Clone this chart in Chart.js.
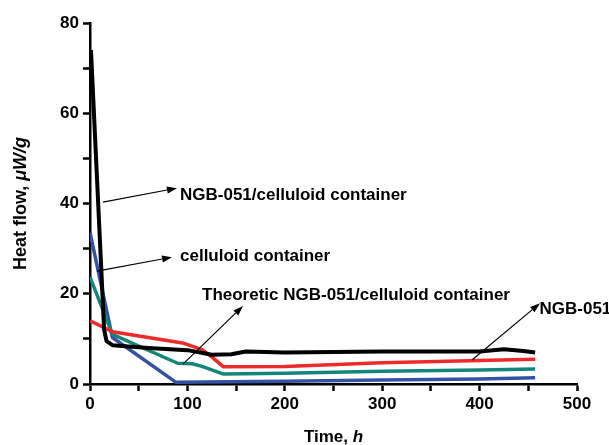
<!DOCTYPE html>
<html>
<head>
<meta charset="utf-8">
<script src="https://cdn.jsdelivr.net/npm/chart.js@4"></script>
<style>
  html, body { margin: 0; padding: 0; background: #fff; }
  #wrap { width: 609px; height: 445px; }
</style>
</head>
<body>
<div id="wrap"><canvas id="graphique"></canvas></div>
<script>
// valeurs (temps en h, flux en uW/g)
const blackX = [1, 14.5, 17, 23, 60, 100, 125, 145, 160, 200, 300, 400, 425, 445, 457];
const blackY = [74, 12, 9.5, 8.6, 8, 7.5, 6.5, 6.6, 7.2, 7.0, 7.2, 7.2, 7.7, 7.3, 7.0];
const redX = [0, 23, 95, 115, 125, 137, 200, 300, 400, 457];
const redY = [14, 11.6, 9.1, 7.6, 6, 3.8, 3.9, 4.7, 5.2, 5.5];
const tealX = [0, 23, 90, 105, 115, 137, 200, 300, 400, 457];
const tealY = [23.7, 11, 4.6, 4.5, 3.9, 2.2, 2.4, 2.8, 3.1, 3.3];
const blueX = [0, 23, 88, 200, 300, 400, 457];
const blueY = [33.6, 10.3, 0.4, 0.6, 0.9, 1.1, 1.4];

const xTicks = [0, 100, 200, 300, 400, 500];
const yTicks = [0, 20, 40, 60, 80];

// legendes avec fleches (debut sur la courbe -> pointe vers le texte)
const labelsTexte = [
  "NGB-051/celluloid container",
  "celluloid container",
  "Theoretic NGB-051/celluloid container",
  "NGB-051"
];
const flecheDebut = [[13.3, 40.3], [7.2, 25.0], [95.5, 4.4], [392.2, 5.3]];
const flecheFin = [[89.3, 43.4], [84.2, 28.1], [157.1, 17.3], [462, 17.9]];
const textePos = [[92.4, 41.8], [92.4, 28.3], [115, 19.7], [461.5, 16.6]];

function points(xs, ys) {
  const pts = [];
  for (let i = 0; i < xs.length; i++) {
    pts.push({ x: xs[i], y: ys[i] });
  }
  return pts;
}

const police = "'Liberation Sans', Arial, sans-serif";
Chart.defaults.font.family = police;

// plugin pour les fleches, les textes et les titres d'axes
const annotations = {
  id: "annotations",
  afterDatasetsDraw(chart) {
    const ctx = chart.ctx;
    const sx = chart.scales.x;
    const sy = chart.scales.y;
    ctx.save();
    ctx.strokeStyle = "#000";
    ctx.fillStyle = "#000";
    ctx.lineWidth = 1.2;
    for (let i = 0; i < flecheDebut.length; i++) {
      const x1 = sx.getPixelForValue(flecheDebut[i][0]);
      const y1 = sy.getPixelForValue(flecheDebut[i][1]);
      const x2 = sx.getPixelForValue(flecheFin[i][0]);
      const y2 = sy.getPixelForValue(flecheFin[i][1]);
      const ang = Math.atan2(y2 - y1, x2 - x1);
      const L = 10, W = 3.5;
      const bx = x2 - L * Math.cos(ang);
      const by = y2 - L * Math.sin(ang);
      ctx.beginPath();
      ctx.moveTo(x1, y1);
      ctx.lineTo(bx, by);
      ctx.stroke();
      ctx.beginPath();
      ctx.moveTo(x2, y2);
      ctx.lineTo(bx + W * Math.sin(ang), by - W * Math.cos(ang));
      ctx.lineTo(bx - W * Math.sin(ang), by + W * Math.cos(ang));
      ctx.closePath();
      ctx.fill();
    }
    ctx.font = "bold 17px " + police;
    ctx.textAlign = "left";
    ctx.textBaseline = "middle";
    for (let i = 0; i < labelsTexte.length; i++) {
      ctx.fillText(labelsTexte[i], sx.getPixelForValue(textePos[i][0]), sy.getPixelForValue(textePos[i][1]));
    }

    // titre axe x : "Time, h" (h en italique)
    const fontN = "bold 17px " + police;
    const fontI = "italic bold 17px " + police;
    ctx.textBaseline = "middle";
    ctx.font = fontN;
    const a = "Time, ";
    const wa = ctx.measureText(a).width;
    ctx.font = fontI;
    const wb = ctx.measureText("h").width;
    let cx = (chart.chartArea.left + chart.chartArea.right) / 2 - (wa + wb) / 2;
    ctx.font = fontN;
    ctx.fillText(a, cx, 437);
    ctx.font = fontI;
    ctx.fillText("h", cx + wa, 437);

    // titre axe y : "Heat flow, uW/g"
    ctx.translate(21, (chart.chartArea.top + chart.chartArea.bottom) / 2);
    ctx.rotate(-Math.PI / 2);
    const c = "Heat flow, ";
    const d = "\u03bcW/g";
    ctx.font = "bold 18px " + police;
    const wc = ctx.measureText(c).width;
    ctx.font = "italic bold 18px " + police;
    const wd = ctx.measureText(d).width;
    const x0 = -(wc + wd) / 2;
    ctx.font = "bold 18px " + police;
    ctx.fillText(c, x0, 0);
    ctx.font = "italic bold 18px " + police;
    ctx.fillText(d, x0 + wc, 0);
    ctx.restore();
  }
};

function serie(label, xs, ys, couleur, epaisseur) {
  return {
    label: label,
    data: points(xs, ys),
    borderColor: couleur,
    backgroundColor: couleur,
    borderWidth: epaisseur,
    pointRadius: 0,
    tension: 0,
    borderJoinStyle: "round",
    fill: false
  };
}

const config = {
  type: "line",
  data: {
    datasets: [
      serie("NGB-051/celluloid container", blackX, blackY, "#000000", 4),
      serie("NGB-051", redX, redY, "#ee2a2a", 3.5),
      serie("Theoretic NGB-051/celluloid container", tealX, tealY, "#14857b", 3.5),
      serie("celluloid container", blueX, blueY, "#3451a4", 3.5)
    ]
  },
  options: {
    responsive: true,
    maintainAspectRatio: false,
    animation: false,
    layout: { padding: { top: 23, right: 32, left: 0, bottom: 0 } },
    plugins: {
      legend: { display: false },
      tooltip: { enabled: false }
    },
    scales: {
      x: {
        type: "linear",
        min: 0,
        max: 500,
        afterFit(scale) { scale.height = 61; },
        afterBuildTicks(scale) {
          const t = [];
          for (let v = 0; v <= 500; v += 50) t.push({ value: v });
          scale.ticks = t;
        },
        ticks: {
          color: "#000",
          font: { size: 17, weight: "bold" },
          padding: 3,
          maxRotation: 0,
          autoSkip: false,
          callback: (v) => (xTicks.includes(v) ? String(v) : "")
        },
        grid: { drawOnChartArea: false, tickLength: 7, tickWidth: 2.5, tickColor: "#000" },
        border: { display: true, color: "#000", width: 2.5 }
      },
      y: {
        min: 0,
        max: 80,
        afterFit(scale) { scale.width = 90; },
        afterBuildTicks(scale) {
          const t = [];
          for (let v = 0; v <= 80; v += 10) t.push({ value: v });
          scale.ticks = t;
        },
        ticks: {
          color: "#000",
          font: { size: 17, weight: "bold" },
          padding: 4,
          autoSkip: false,
          callback: (v) => (yTicks.includes(v) ? String(v) : "")
        },
        grid: { drawOnChartArea: false, tickLength: 7, tickWidth: 2.5, tickColor: "#000" },
        border: { display: true, color: "#000", width: 2.5 }
      }
    }
  },
  plugins: [annotations]
};

new Chart(document.querySelector("#graphique"), config);
</script>
</body>
</html>
